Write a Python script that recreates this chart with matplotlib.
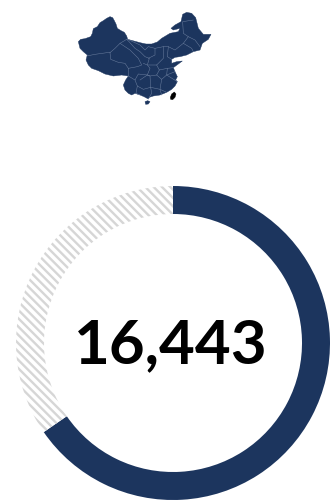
import matplotlib
matplotlib.use("Agg")
import matplotlib.pyplot as plt

NAVY = "#1c355e"
GRAY = "#d6d6d6"
BORDER = "#6d80a0"

# Total de casos y resto
valores = [16443, 8700]
etiqueta = "16,443"

# Contorno del mapa (unidades de trazado, y hacia abajo)
mapa_x = [55, 62, 75, 92, 97, 100, 112, 120, 130, 140, 150, 158, 163, 168, 172, 183, 193, 200, 203, 218, 240, 258, 275,
          292, 305, 330, 355, 360, 340, 333, 345, 363, 368, 380, 395, 407, 415, 430, 453, 445, 427, 420, 400, 380, 360,
          345, 335, 335, 350, 367, 355, 340, 345, 352, 347, 352, 345, 335, 320, 300, 280, 268, 265, 252, 240, 225, 215,
          205, 195, 190, 197, 205, 185, 160, 135, 115, 95, 85, 78, 82, 70, 60]
mapa_y = [125, 118, 116, 110, 100, 86, 80, 68, 62, 55, 50, 53, 62, 72, 85, 92, 97, 108, 118, 122, 128, 132, 132,
          126, 115, 100, 95, 85, 90, 85, 75, 65, 43, 37, 40, 53, 85, 103, 103, 118, 130, 150, 155, 165, 170,
          172, 178, 190, 185, 183, 192, 203, 215, 230, 240, 245, 258, 268, 277, 285, 288, 292, 297, 290, 285, 280, 285,
          280, 270, 255, 240, 228, 225, 228, 222, 212, 205, 195, 180, 165, 155, 145]
hainan_x = [255, 263, 270, 265, 257]
hainan_y = [305, 302, 305, 312, 313]
taiwan_x = [331, 335, 343, 348, 345, 338, 332]
taiwan_y = [292, 282, 276, 282, 292, 299, 298]

# Fronteras provinciales
fronteras = [
    ([80, 105, 148, 150], [168, 163, 157, 158]),
    ([150, 152, 175, 195, 205, 205], [158, 178, 187, 190, 205, 228]),
    ([150, 165, 180, 200], [158, 145, 130, 118]),
    ([200, 207, 225, 240, 255, 268, 262, 250], [118, 125, 145, 155, 170, 175, 195, 190]),
    ([180, 210, 235, 245, 232, 205], [130, 150, 175, 195, 200, 205]),
    ([205, 225, 235, 262, 270, 262], [228, 240, 222, 225, 205, 195]),
    ([203, 240, 255, 265, 285, 310, 325, 345, 370, 385, 370, 368, 400], [118, 135, 150, 140, 145, 140, 140, 150, 130, 110, 100, 65, 60]),
    ([385, 405, 420], [110, 120, 140]),
    ([370, 395, 400], [130, 145, 155]),
    ([285, 285, 265], [145, 165, 175]),
    ([310, 310, 290, 265], [140, 175, 195, 195]),
    ([325, 322, 335], [140, 170, 178]),
    ([290, 298, 322, 340], [195, 210, 205, 203]),
    ([298, 290, 270, 262], [210, 225, 228, 225]),
    ([322, 320, 345], [205, 225, 215]),
    ([290, 305, 320, 352], [225, 238, 225, 245]),
    ([225, 232, 250, 272, 300, 320], [240, 258, 268, 262, 268, 277]),
    ([272, 270, 262, 240], [262, 228, 225, 240]),
    ([305, 300, 305], [238, 268, 285]),
    ([272, 275, 265], [262, 280, 297]),
    ([232, 228, 240], [258, 280, 285]),
]

plt.rcParams["hatch.linewidth"] = 1.7

fig = plt.figure(figsize=(3.3, 5), dpi=100)

# Anillo con el total
ax = fig.add_axes([16 / 330, 0, 314 / 330, 314 / 500])
wedges, _ = ax.pie(valores, startangle=90, counterclock=False, radius=1,
                   colors=[NAVY, "white"], wedgeprops=dict(width=28 / 157, linewidth=0))
wedges[1].set_hatch("\\\\\\\\")
wedges[1].set_edgecolor(GRAY)
wedges[1].set_linewidth(0)
ax.set_xlim(-1, 1)
ax.set_ylim(-1, 1)
ax.text(-0.015, -0.012, etiqueta, ha="center", va="center", fontsize=44.5, fontweight="bold",
        family="Lato", color="black")

# Mapa arriba
ax2 = fig.add_axes([60 / 330, 385 / 500, 170 / 330, 115 / 500])
ax2.set_xlim(0, 510)
ax2.set_ylim(345, 0)
ax2.axis("off")
ax2.fill(mapa_x, mapa_y, color=NAVY, linewidth=0.3)
ax2.fill(hainan_x, hainan_y, color=NAVY, linewidth=0.3)
ax2.fill(taiwan_x, taiwan_y, color="black", linewidth=0.3)
for xs, ys in fronteras:
    ax2.plot(xs, ys, color=BORDER, lw=0.35)

fig.savefig("out.png", dpi=100)
